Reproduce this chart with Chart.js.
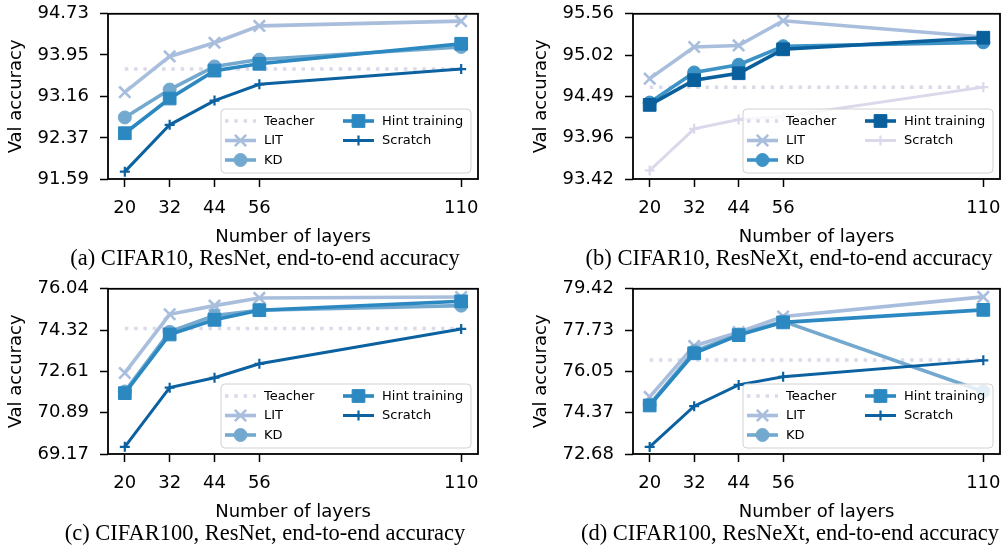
<!DOCTYPE html>
<html lang="en">
<head>
<meta charset="UTF-8">
<title>Val accuracy vs number of layers</title>
<script src="https://cdn.jsdelivr.net/npm/chart.js"></script>
<style>
  body { margin: 0; background: #fff; width: 1003px; height: 550px; position: relative; overflow: hidden; }
  canvas { position: absolute; }
  .cap { position: absolute; font-family: "Liberation Serif", "Times New Roman", serif; font-size: 22.5px;
         line-height: 22px; white-space: nowrap; color: #000; transform: translateX(-50%); }
</style>
</head>
<body>
<canvas id="cA" width="500" height="258" style="left:0;top:-8px"></canvas>
<canvas id="cB" width="515" height="258" style="left:500px;top:-8px"></canvas>
<canvas id="cC" width="500" height="258" style="left:0;top:267px"></canvas>
<canvas id="cD" width="515" height="258" style="left:500px;top:267px"></canvas>
<div class="cap" style="left:265px;top:247px">(a) CIFAR10, ResNet, end-to-end accuracy</div>
<div class="cap" style="left:789px;top:247px">(b) CIFAR10, ResNeXt, end-to-end accuracy</div>
<div class="cap" style="left:265px;top:522px">(c) CIFAR100, ResNet, end-to-end accuracy</div>
<div class="cap" style="left:790px;top:522px">(d) CIFAR100, ResNeXt, end-to-end accuracy</div>
<script>
// number of layers (x axis)
const layers = [20, 32, 44, 56, 110];

// (a) CIFAR10, ResNet
const litA = [93.24, 93.92, 94.18, 94.50, 94.59];
const kdA = [92.76, 93.29, 93.73, 93.86, 94.10];
const hintA = [92.46, 93.12, 93.65, 93.78, 94.16];
const scratchA = [91.73, 92.62, 93.08, 93.39, 93.68];
const teacherA = 93.68;
const yTicksA = ['91.59', '92.37', '93.16', '93.95', '94.73'];

// (b) CIFAR10, ResNeXt
const litB = [94.72, 95.13, 95.15, 95.47, 95.26];
const kdB = [94.41, 94.80, 94.90, 95.14, 95.19];
const hintB = [94.38, 94.70, 94.79, 95.10, 95.25];
const scratchB = [93.53, 94.07, 94.19, 94.23, 94.61];
const teacherB = 94.61;
const yTicksB = ['93.42', '93.96', '94.49', '95.02', '95.56'];

// (c) CIFAR100, ResNet
const litC = [72.54, 74.98, 75.34, 75.66, 75.70];
const kdC = [71.77, 74.25, 74.93, 75.15, 75.34];
const hintC = [71.70, 74.14, 74.75, 75.15, 75.52];
const scratchC = [69.47, 71.93, 72.34, 72.92, 74.37];
const teacherC = 74.39;
const yTicksC = ['69.17', '70.89', '72.61', '74.32', '76.04'];

// (d) CIFAR100, ResNeXt
const litD = [75.01, 77.09, 77.65, 78.29, 79.09];
const kdD = [74.70, 76.87, 77.56, 78.09, 75.23];
const hintD = [74.66, 76.79, 77.53, 78.05, 78.56];
const scratchD = [72.97, 74.63, 75.50, 75.83, 76.50];
const teacherD = 76.52;
const yTicksD = ['72.68', '74.37', '76.05', '77.73', '79.42'];

// colours: LIT, KD, Hint training, Scratch
const coloursResNet = ['#a8bedc', '#74a9cf', '#2c88c0', '#0c62a0'];
const coloursResNeXt10 = ['#a8bedc', '#3d93c6', '#0a609d', '#d9d9eb'];
const teacherColour = '#dadaeb';

Chart.defaults.color = '#000';
Chart.defaults.font.family = 'DejaVu Sans';

const frameAndLegend = {
  id: 'frameAndLegend',
  afterDatasetsDraw(chart) {
    const ctx = chart.ctx;
    const a = chart.chartArea;
    ctx.save();
    ctx.strokeStyle = '#000';
    ctx.lineWidth = 1.8;
    ctx.strokeRect(a.left, a.top, a.right - a.left, a.bottom - a.top);

    // legend box
    const w = 250, h = 64;
    const x0 = a.right - 7 - w, y0 = a.bottom - 6 - h;
    ctx.beginPath();
    ctx.roundRect(x0, y0, w, h, 4);
    ctx.fillStyle = 'rgba(255,255,255,0.8)';
    ctx.fill();
    ctx.strokeStyle = '#d2d2d2';
    ctx.lineWidth = 1;
    ctx.stroke();

    const slots = [[4, 12], [4, 31.5], [4, 51], [122, 12], [122, 31.5]];
    const order = ['Teacher', 'LIT', 'KD', 'Hint training', 'Scratch'];
    ctx.font = '13px "DejaVu Sans"';
    ctx.textBaseline = 'middle';
    order.forEach((name, i) => {
      const ds = chart.data.datasets.find(d => d.label === name);
      const hx = x0 + slots[i][0], hy = y0 + slots[i][1];
      ctx.save();
      ctx.strokeStyle = ds.borderColor;
      ctx.lineWidth = ds.borderWidth;
      ctx.setLineDash(ds.borderDash || []);
      ctx.beginPath();
      ctx.moveTo(hx, hy);
      ctx.lineTo(hx + 31, hy);
      ctx.stroke();
      ctx.setLineDash([]);
      if (ds.pointRadius > 0) {
        ctx.fillStyle = ds.borderColor;
        ctx.strokeStyle = ds.borderColor;
        ctx.lineWidth = ds.pointBorderWidth;
        Chart.helpers.drawPoint(ctx, {
          pointStyle: ds.pointStyle, radius: ds.pointRadius,
          borderWidth: ds.pointBorderWidth, rotation: 0
        }, hx + 15.5, hy);
      }
      ctx.restore();
      ctx.fillStyle = '#000';
      ctx.fillText(name, hx + 39, hy + 0.5);
    });
    ctx.restore();
  }
};

function pts(values) {
  return values.map((v, i) => ({ x: layers[i], y: v }));
}

function makePanel(id, lit, kd, hint, scratch, teacher, yTicks, colours, padLeft, padRight) {
  const yVals = yTicks.map(Number);
  const lineDs = (label, values, colour, style, radius, pbw, bw, order) => ({
    label, data: pts(values), borderColor: colour, backgroundColor: colour,
    pointBackgroundColor: colour, pointBorderColor: colour,
    borderWidth: bw, pointStyle: style, pointRadius: radius, pointHoverRadius: radius,
    pointBorderWidth: pbw, tension: 0, fill: false, order
  });
  new Chart(document.getElementById(id), {
    type: 'line',
    data: {
      datasets: [
        {
          label: 'Teacher',
          data: [{ x: layers[0], y: teacher }, { x: layers[layers.length - 1], y: teacher }],
          borderColor: teacherColour, borderWidth: 3.5, borderDash: [3.5, 5.8],
          borderCapStyle: 'butt', pointRadius: 0, fill: false, order: 5
        },
        lineDs('LIT', lit, colours[0], 'crossRot', 8, 2.6, 3.6, 4),
        lineDs('KD', kd, colours[1], 'circle', 6.5, 1, 3.6, 3),
        lineDs('Hint training', hint, colours[2], 'rect', 9, 1, 3.6, 2),
        lineDs('Scratch', scratch, colours[3], 'cross', 5, 2.2, 3, 1)
      ]
    },
    options: {
      responsive: false,
      animation: false,
      events: [],
      layout: { autoPadding: false, padding: { left: padLeft, right: padRight, top: 18, bottom: 0 } },
      plugins: { legend: { display: false }, tooltip: { enabled: false } },
      scales: {
        x: {
          type: 'linear', min: 15.5, max: 114.5,
          afterBuildTicks: s => { s.ticks = layers.map(v => ({ value: v })); },
          afterFit: s => { s.height = 71; },
          ticks: { font: { size: 18 }, padding: 11, autoSkip: false, maxRotation: 0, callback: v => String(v) },
          grid: { display: true, drawOnChartArea: false, drawTicks: true, tickLength: 8, tickColor: '#000', tickWidth: 1.5 },
          border: { display: false },
          title: { display: true, text: 'Number of layers', font: { size: 18 }, padding: { top: 0, bottom: 2 } }
        },
        y: {
          type: 'linear', min: yVals[0], max: yVals[yVals.length - 1],
          afterBuildTicks: s => { s.ticks = yVals.map(v => ({ value: v })); },
          afterFit: s => { s.width = 108; },
          ticks: { font: { size: 18 }, padding: 11, autoSkip: false, callback: (v, i) => yTicks[i] },
          grid: { display: true, drawOnChartArea: false, drawTicks: true, tickLength: 8, tickColor: '#000', tickWidth: 1.5 },
          border: { display: false },
          title: { display: true, text: 'Val accuracy', font: { size: 18 }, padding: { top: 6, bottom: 0 } }
        }
      }
    },
    plugins: [frameAndLegend]
  });
}

makePanel('cA', litA, kdA, hintA, scratchA, teacherA, yTicksA, coloursResNet, 0, 22);
makePanel('cB', litB, kdB, hintB, scratchB, teacherB, yTicksB, coloursResNeXt10, 25, 15);
makePanel('cC', litC, kdC, hintC, scratchC, teacherC, yTicksC, coloursResNet, 0, 22);
makePanel('cD', litD, kdD, hintD, scratchD, teacherD, yTicksD, coloursResNet, 25, 15);
</script>
</body>
</html>
